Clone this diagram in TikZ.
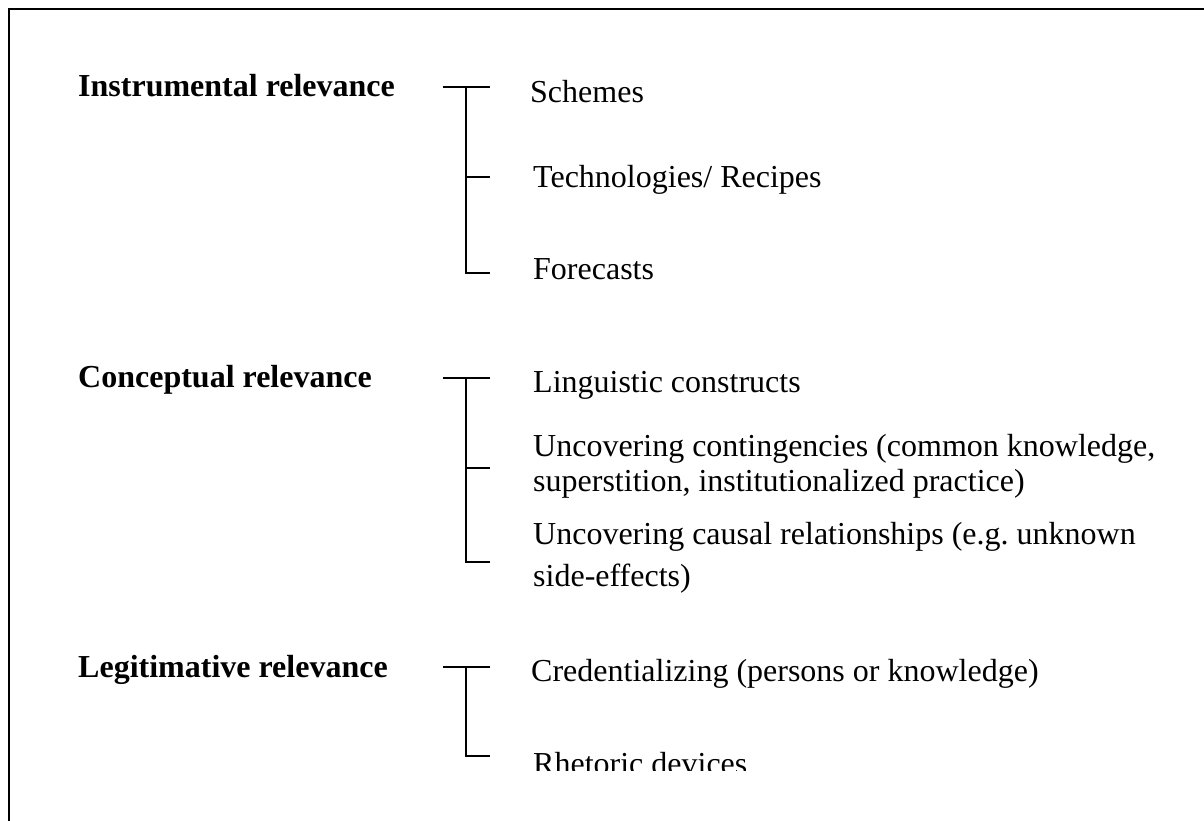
\documentclass[tikz,border=0pt]{standalone}
\usepackage{fontspec}
\setmainfont{Liberation Serif}
\begin{document}
\begin{tikzpicture}[x=1pt,y=-1pt,
  frameline/.style={line width=2pt},
  bracketline/.style={line width=2pt},
  head/.style={anchor=base west, inner sep=0pt, font=\fontsize{32}{38}\selectfont\bfseries},
  item/.style={anchor=base west, inner sep=0pt, font=\fontsize{32}{37}\selectfont}]
\useasboundingbox (0,0) rectangle (1204,821);

% open frame: top and left edges only
\coordinate (fa) at (9,821);
\coordinate (fb) at (9,9);
\coordinate (fc) at (1204,9);
\draw[frameline] (fa) -- (fb) -- (fc);

% headings
\node[head] (instr) at (78,97)  {Instrumental relevance};
\node[head] (conc)  at (78,387) {Conceptual relevance};
\node[head] (legit) at (78,677) {Legitimative relevance};

% items
\node[item] (schemes) at (530,103) {Schemes};
\node[item] (techn)   at (533,188) {Technologies/ Recipes};
\node[item] (fore)    at (533,279) {Forecasts};

\node[item] (ling)    at (533,392) {Linguistic constructs};
\node[item] (contA)   at (533,456) {Uncovering contingencies (common knowledge,};
\node[item] (contB)   at (533,491) {superstition, institutionalized practice)};
\node[item] (causA)   at (533,544) {Uncovering causal relationships (e.g.\ unknown};
\node[item] (causB)   at (533,586) {side-effects)};

\node[item] (cred)    at (531,681) {Credentializing (persons or knowledge)};
\begin{scope}
  \clip (0,0) rectangle (1204,770);
  \node[item] (rhet) at (533,774) {Rhetoric devices};
\end{scope}

% brackets
\coordinate (a0) at (443,87);  \coordinate (a1) at (490,87);
\coordinate (av) at (466,87);  \coordinate (am) at (490,177);
\coordinate (ab) at (490,273);
\draw[bracketline] (a0) -- (a1);
\draw[bracketline] (av) |- (ab);
\draw[bracketline] (av |- am) -- (am);

\coordinate (b0) at (443,378); \coordinate (b1) at (490,378);
\coordinate (bv) at (466,378); \coordinate (bm) at (490,468);
\coordinate (bb) at (490,562);
\draw[bracketline] (b0) -- (b1);
\draw[bracketline] (bv) |- (bb);
\draw[bracketline] (bv |- bm) -- (bm);

\coordinate (c0) at (443,667); \coordinate (c1) at (490,667);
\coordinate (cv) at (466,667); \coordinate (cb) at (490,756);
\draw[bracketline] (c0) -- (c1);
\draw[bracketline] (cv) |- (cb);
\end{tikzpicture}
\end{document}
